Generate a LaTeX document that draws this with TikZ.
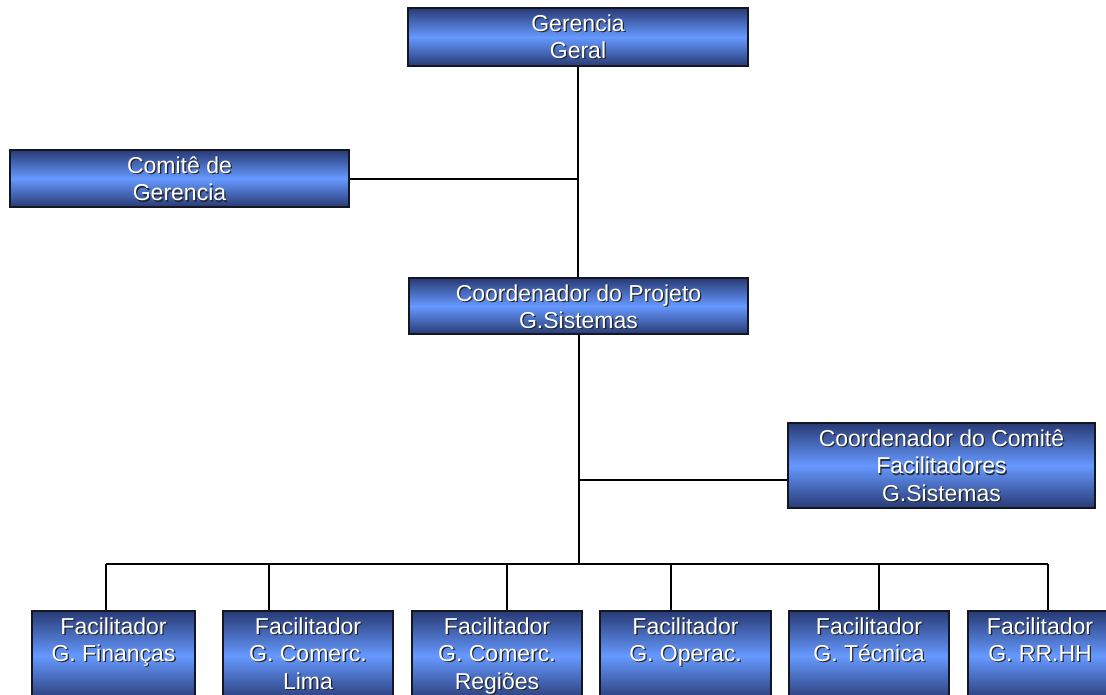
\documentclass[tikz,border=0pt]{standalone}
\usepackage{fontspec}
\setmainfont{Liberation Sans}
\begin{document}
\definecolor{edgeblue}{RGB}{40,58,116}
\definecolor{midblue}{RGB}{102,153,255}
\definecolor{boxline}{RGB}{20,22,34}
\tikzset{
  orgbox/.style={draw=boxline, line width=1.4pt, rectangle, inner sep=0pt,
    top color=edgeblue, bottom color=edgeblue, middle color=midblue},
  boxtext/.style={align=center, inner sep=0pt, anchor=north, text=white,
    font=\fontsize{23}{27.5}\selectfont},
  shadowtext/.style={boxtext, text=black!85},
  link/.style={draw=black, line width=2pt},
}
% \orgunit{name}{x1}{y1}{x2}{y2}{label}: shaded box with shadowed white label
\newcommand\orgunit[6]{%
  \node[orgbox, minimum width={(#4-#2)*1pt}, minimum height={(#5-#3)*1pt}]
    (#1) at ({(#2+#4)/2},{(#3+#5)/2}) {};
  \node[shadowtext] (#1-s) at ([xshift=1.3pt,yshift=-8.3pt]#1.north) {#6};
  \node[boxtext] (#1-t) at ([yshift=-7pt]#1.north) {#6};
}
\begin{tikzpicture}[x=1pt, y=-1pt]
  \path[use as bounding box] (0,0) rectangle (1106,694);
  \clip (0,0) rectangle (1106,694);

  % junction points on the facilitators' bus
  \coordinate (busL) at (106,564);
  \coordinate (busR) at (1048,564);
  \coordinate (d1) at (106,564);
  \coordinate (d2) at (269,564);
  \coordinate (d3) at (507,564);
  \coordinate (d4) at (671,564);
  \coordinate (d5) at (879,564);
  \coordinate (d6) at (1048,564);

  % upper levels
  \orgunit{gg}{408}{8}{748}{66}{Gerencia\\Geral}
  \orgunit{cg}{10}{150}{349}{207}{Comitê de\\Gerencia}
  \orgunit{cp}{409}{278}{748}{334}{Coordenador do Projeto\\G.Sistemas}
  \orgunit{cc}{788}{423}{1095}{508}{Coordenador do Comitê\\Facilitadores\\G.Sistemas}

  % facilitators
  \orgunit{f1}{32}{611}{195}{701}{Facilitador\\G. Finanças}
  \orgunit{f2}{223}{611}{393}{701}{Facilitador\\G. Comerc.\\Lima}
  \orgunit{f3}{412}{611}{582}{701}{Facilitador\\G. Comerc.\\Regiões}
  \orgunit{f4}{600}{611}{771}{701}{Facilitador\\G. Operac.}
  \orgunit{f5}{789}{611}{949}{701}{Facilitador\\G. Técnica}
  \orgunit{f6}{968}{611}{1112}{701}{Facilitador\\G. RR.HH}

  \draw[link] (gg.south) -- (gg.south |- cp.north);
  \draw[link] (cg.east) -- (cg.east -| gg.south);
  \draw[link] (cp.south) -- (cp.south |- busL);
  \draw[link] ([yshift=-14.5pt]cc.west) -- ([yshift=-14.5pt]cc.west -| cp.south);
  \draw[link] (busL) -- (busR);
  \foreach \i in {1,...,6} {
    \draw[link] (d\i) -- (d\i |- f\i.north);
  }
\end{tikzpicture}
\end{document}
